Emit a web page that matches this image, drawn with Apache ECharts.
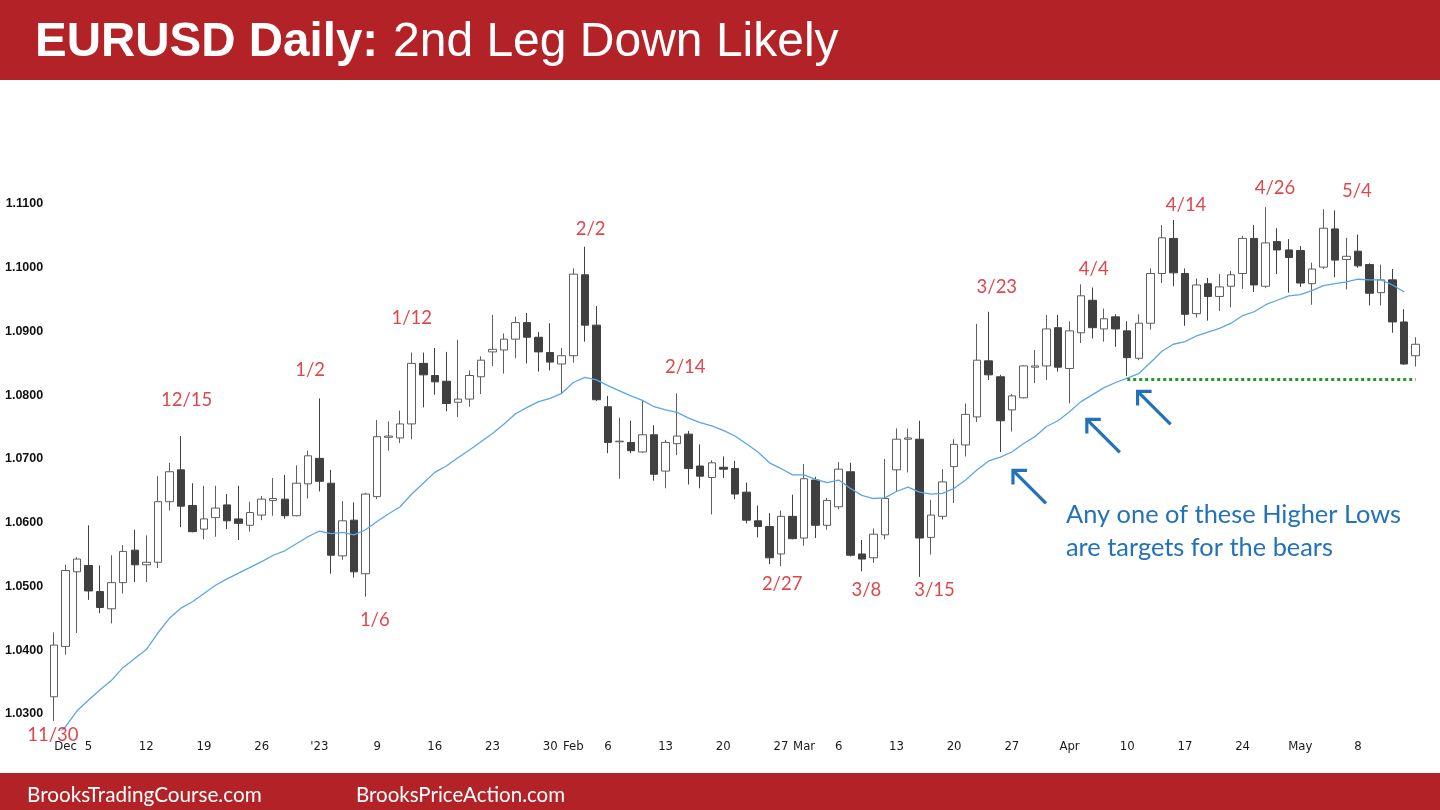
<!DOCTYPE html>
<html><head><meta charset="utf-8">
<script src="https://cdn.jsdelivr.net/npm/echarts@6/dist/echarts.min.js"></script>
<style>html,body{margin:0;padding:0;background:#fff;}#chart{width:1440px;height:810px;}</style>
</head><body><div id="chart"></div>
<script>
const dates = [
 '2022-11-30','2022-12-01','2022-12-02',
 '2022-12-05','2022-12-06','2022-12-07','2022-12-08','2022-12-09',
 '2022-12-12','2022-12-13','2022-12-14','2022-12-15','2022-12-16',
 '2022-12-19','2022-12-20','2022-12-21','2022-12-22','2022-12-23',
 '2022-12-26','2022-12-27','2022-12-28','2022-12-29','2022-12-30',
 '2023-01-02','2023-01-03','2023-01-04','2023-01-05','2023-01-06',
 '2023-01-09','2023-01-10','2023-01-11','2023-01-12','2023-01-13',
 '2023-01-16','2023-01-17','2023-01-18','2023-01-19','2023-01-20',
 '2023-01-23','2023-01-24','2023-01-25','2023-01-26','2023-01-27',
 '2023-01-30','2023-01-31','2023-02-01','2023-02-02','2023-02-03',
 '2023-02-06','2023-02-07','2023-02-08','2023-02-09','2023-02-10',
 '2023-02-13','2023-02-14','2023-02-15','2023-02-16','2023-02-17',
 '2023-02-20','2023-02-21','2023-02-22','2023-02-23','2023-02-24',
 '2023-02-27','2023-02-28','2023-03-01','2023-03-02','2023-03-03',
 '2023-03-06','2023-03-07','2023-03-08','2023-03-09','2023-03-10',
 '2023-03-13','2023-03-14','2023-03-15','2023-03-16','2023-03-17',
 '2023-03-20','2023-03-21','2023-03-22','2023-03-23','2023-03-24',
 '2023-03-27','2023-03-28','2023-03-29','2023-03-30','2023-03-31',
 '2023-04-03','2023-04-04','2023-04-05','2023-04-06','2023-04-07',
 '2023-04-10','2023-04-11','2023-04-12','2023-04-13','2023-04-14',
 '2023-04-17','2023-04-18','2023-04-19','2023-04-20','2023-04-21',
 '2023-04-24','2023-04-25','2023-04-26','2023-04-27','2023-04-28',
 '2023-05-01','2023-05-02','2023-05-03','2023-05-04','2023-05-05',
 '2023-05-08','2023-05-09','2023-05-10','2023-05-11','2023-05-12',
 '2023-05-15'
];
const opens = [
 1.0327,1.0406,1.0523,
 1.0533,1.0492,1.0465,1.0506,1.0557,
 1.0534,1.0538,1.0633,1.0683,1.0627,
 1.0590,1.0608,1.0628,1.0606,1.0596,
 1.0612,1.0635,1.0637,1.0611,1.0661,
 1.0701,1.0662,1.0548,1.0604,1.0520,
 1.0641,1.0734,1.0733,1.0755,1.0850,
 1.0831,1.0822,1.0789,1.0794,1.0829,
 1.0868,1.0871,1.0888,1.0914,1.0891,
 1.0867,1.0849,1.0862,1.0989,1.0910,
 1.0782,1.0727,1.0726,1.0711,1.0738,
 1.0681,1.0724,1.0739,1.0689,1.0671,
 1.0687,1.0685,1.0648,1.0603,1.0594,
 1.0551,1.0610,1.0576,1.0667,1.0596,
 1.0625,1.0680,1.0551,1.0545,1.0581,
 1.0683,1.0731,1.0731,1.0577,1.0610,
 1.0688,1.0722,1.0766,1.0854,1.0829,
 1.0777,1.0796,1.0844,1.0846,1.0906,
 1.0842,1.0898,1.0949,1.0904,1.0923,
 1.0901,1.0858,1.0913,1.0991,1.1046,
 1.0991,1.0928,1.0975,1.0955,1.0971,
 1.0991,1.1046,1.0971,1.1041,1.1028,
 1.1027,1.0975,1.1001,1.1061,1.1013,
 1.1026,1.1005,1.0961,1.0981,1.0915,
 1.0862
];
const highs = [
 1.0428,1.0534,1.0546,
 1.0596,1.0533,1.0549,1.0565,1.0589,
 1.0580,1.0673,1.0694,1.0736,1.0662,
 1.0658,1.0658,1.0645,1.0658,1.0633,
 1.0642,1.0670,1.0675,1.0690,1.0713,
 1.0795,1.0683,1.0634,1.0632,1.0647,
 1.0761,1.0759,1.0776,1.0867,1.0867,
 1.0874,1.0868,1.0887,1.0839,1.0861,
 1.0926,1.0897,1.0923,1.0929,1.0899,
 1.0913,1.0874,1.0999,1.1033,1.0940,
 1.0799,1.0765,1.0760,1.0791,1.0753,
 1.0730,1.0803,1.0744,1.0723,1.0698,
 1.0704,1.0697,1.0663,1.0627,1.0615,
 1.0619,1.0644,1.0692,1.0672,1.0639,
 1.0695,1.0694,1.0573,1.0591,1.0700,
 1.0748,1.0748,1.0760,1.0636,1.0684,
 1.0731,1.0787,1.0912,1.0931,1.0832,
 1.0802,1.0847,1.0871,1.0926,1.0926,
 1.0916,1.0974,1.0969,1.0936,1.0927,
 1.0916,1.0927,1.0999,1.1067,1.1075,
 1.0999,1.0983,1.0984,1.0990,1.0995,
 1.1050,1.1067,1.1095,1.1062,1.1045,
 1.1034,1.1008,1.1092,1.1090,1.1047,
 1.1052,1.1007,1.1005,1.0998,1.0935,
 1.0891
];
const lows = [
 1.0289,1.0393,1.0427,
 1.0479,1.0458,1.0442,1.0489,1.0507,
 1.0507,1.0529,1.0619,1.0593,1.0585,
 1.0574,1.0578,1.0590,1.0573,1.0586,
 1.0604,1.0611,1.0606,1.0610,1.0638,
 1.0649,1.0520,1.0542,1.0514,1.0484,
 1.0637,1.0713,1.0725,1.0731,1.0781,
 1.0801,1.0775,1.0766,1.0782,1.0802,
 1.0846,1.0834,1.0858,1.0850,1.0837,
 1.0839,1.0802,1.0851,1.0884,1.0791,
 1.0709,1.0669,1.0709,1.0710,1.0666,
 1.0654,1.0706,1.0660,1.0654,1.0613,
 1.0670,1.0637,1.0599,1.0577,1.0535,
 1.0532,1.0574,1.0564,1.0576,1.0589,
 1.0621,1.0547,1.0524,1.0537,1.0574,
 1.0649,1.0679,1.0515,1.0550,1.0605,
 1.0631,1.0704,1.0758,1.0824,1.0711,
 1.0743,1.0795,1.0819,1.0824,1.0837,
 1.0787,1.0882,1.0889,1.0884,1.0876,
 1.0830,1.0855,1.0903,1.0976,1.0971,
 1.0909,1.0922,1.0917,1.0932,1.0938,
 1.0967,1.0962,1.0968,1.0990,1.0961,
 1.0970,1.0942,1.0998,1.0985,1.0966,
 1.1000,1.0941,1.0941,1.0898,1.0848,
 1.0845
];
const closes = [
 1.0408,1.0525,1.0543,
 1.0493,1.0467,1.0506,1.0555,1.0534,
 1.0538,1.0633,1.0680,1.0626,1.0586,
 1.0606,1.0623,1.0603,1.0599,1.0616,
 1.0637,1.0638,1.0611,1.0662,1.0705,
 1.0665,1.0549,1.0603,1.0523,1.0645,
 1.0735,1.0736,1.0755,1.0850,1.0832,
 1.0821,1.0787,1.0794,1.0831,1.0855,
 1.0872,1.0888,1.0914,1.0891,1.0868,
 1.0852,1.0862,1.0990,1.0910,1.0793,
 1.0726,1.0728,1.0713,1.0738,1.0676,
 1.0726,1.0736,1.0685,1.0673,1.0694,
 1.0684,1.0645,1.0604,1.0594,1.0545,
 1.0610,1.0575,1.0669,1.0596,1.0635,
 1.0684,1.0549,1.0543,1.0582,1.0638,
 1.0731,1.0733,1.0576,1.0612,1.0664,
 1.0723,1.0770,1.0855,1.0832,1.0760,
 1.0799,1.0846,1.0846,1.0904,1.0844,
 1.0901,1.0956,1.0906,1.0920,1.0904,
 1.0859,1.0913,1.0991,1.1047,1.0992,
 1.0927,1.0973,1.0955,1.0970,1.0989,
 1.1046,1.0973,1.1039,1.1028,1.1016,
 1.0976,1.0998,1.1062,1.1012,1.1018,
 1.1003,1.0960,1.0981,1.0915,1.0849,
 1.0880
];
const ema20 = [
 1.0262,1.0280,1.0305,
 1.0322,1.0338,1.0353,1.0373,1.0387,
 1.0401,1.0427,1.0450,1.0466,1.0476,
 1.0489,1.0502,1.0512,1.0521,1.0530,
 1.0539,1.0549,1.0556,1.0567,1.0578,
 1.0587,1.0583,1.0585,1.0581,1.0589,
 1.0602,1.0614,1.0625,1.0645,1.0662,
 1.0679,1.0689,1.0702,1.0714,1.0727,
 1.0740,1.0755,1.0771,1.0781,1.0790,
 1.0795,1.0803,1.0820,1.0828,1.0824,
 1.0815,1.0807,1.0799,1.0792,1.0782,
 1.0777,1.0773,1.0764,1.0757,1.0752,
 1.0745,1.0736,1.0724,1.0711,1.0694,
 1.0685,1.0675,1.0675,1.0668,1.0663,
 1.0667,1.0654,1.0643,1.0638,1.0639,
 1.0649,1.0656,1.0648,1.0645,1.0646,
 1.0654,1.0667,1.0683,1.0697,1.0703,
 1.0711,1.0724,1.0735,1.0751,1.0760,
 1.0774,1.0790,1.0801,1.0812,1.0820,
 1.0827,1.0834,1.0851,1.0869,1.0880,
 1.0884,1.0893,1.0899,1.0905,1.0913,
 1.0925,1.0931,1.0942,1.0949,1.0956,
 1.0958,1.0964,1.0972,1.0975,1.0978,
 1.0982,1.0981,1.0981,1.0973,1.0962,
 null
];
// x-axis tick labels
const tickDates = ['2022-12-01','2022-12-05','2022-12-12','2022-12-19','2022-12-26','2023-01-02','2023-01-09','2023-01-16','2023-01-23','2023-01-30','2023-02-01','2023-02-06','2023-02-13','2023-02-20','2023-02-27','2023-03-01','2023-03-06','2023-03-13','2023-03-20','2023-03-27','2023-04-03','2023-04-10','2023-04-17','2023-04-24','2023-05-01','2023-05-08'];
const tickLabels = ['Dec','5','12','19','26',"'23",'9','16','23','30','Feb','6','13','20','27','Mar','6','13','20','27','Apr','10','17','24','May','8'];
// y-axis tick labels
const yTickValues = [1.03,1.04,1.05,1.06,1.07,1.08,1.09,1.10,1.11];
// swing labels: text, position in trading-day index, price level
const annoText  = ['11/30','12/15','1/2','1/6','1/12','2/2','2/14','2/27','3/8','3/15','3/23','4/4','4/14','4/26','5/4'];
const annoX     = [-0.1, 11.5, 22.2, 27.8, 31.0, 46.5, 54.7, 63.1, 70.4, 76.3, 81.7, 90.1, 98.1, 105.8, 112.9];
const annoY     = [1.0267,1.0793,1.0840,1.0447,1.0921,1.1061,1.0844,1.0504,1.0495,1.0495,1.0970,1.0998,1.1098,1.1125,1.1120];
// arrow tips (trading-day index, price)
const arrowX = [83.1, 89.5, 93.9];
const arrowY = [1.0682, 1.0762, 1.0806];
// support level
const supportLevel = 1.0825;
const supportFrom = '2023-04-10';
const supportTo = '2023-05-15';

const candleData = dates.map((d,i)=>[opens[i],closes[i],lows[i],highs[i]]);
const RED = '#B22226';
const ANNO = '#D9161C';
const BLUE = '#2372B9';

const chart = echarts.init(document.getElementById('chart'));
chart.setOption({
  animation:false,
  backgroundColor:'#ffffff',
  grid:{left:48.2, right:18.5, top:108.4, bottom:80.1, containLabel:false},
  xAxis:[{
    type:'category', data:dates, boundaryGap:true,
    axisLine:{show:false}, axisTick:{show:false}, splitLine:{show:false},
    axisLabel:{
      interval:(idx,val)=>tickDates.indexOf(val)>=0,
      formatter:(val)=>{const k=tickDates.indexOf(val);return k>=0?tickLabels[k]:'';},
      color:'#1a1a1a', fontSize:13, margin:10,
      fontFamily:"'Liberation Sans Narrow','DejaVu Sans Condensed','Arial Narrow',sans-serif"
    }
  },{
    type:'value', min:-0.5, max:dates.length-0.5, show:false
  }],
  yAxis:{
    type:'value', min:1.0275, max:1.125, interval:0.0025, scale:true,
    axisLine:{show:false}, axisTick:{show:false}, splitLine:{show:false},
    axisLabel:{
      margin:5, color:'#111', fontSize:12.5, fontWeight:'bold',
      fontFamily:"'Liberation Sans',Arial,sans-serif",
      formatter:(v)=>{const k=Math.round(v*10000);return yTickValues.some(t=>Math.round(t*10000)===k)?(k/10000).toFixed(4):'';}
    }
  },
  series:[{
    type:'candlestick', name:'EURUSD', data:candleData, barWidth:8,
    itemStyle:{color:'#ffffff', color0:'#404040', borderColor:'#5e5e5e', borderColor0:'#404040', borderWidth:1},
    markLine:{
      silent:true, symbol:['none','none'], label:{show:false},
      lineStyle:{color:'#1F9A2A', type:[3,3], width:3, cap:'butt'},
      emphasis:{disabled:true},
      data:[[{coord:[supportFrom,supportLevel]},{coord:[supportTo,supportLevel]}]]
    },
    z:3
  },{
    type:'line', name:'EMA20', data:ema20, symbol:'none', smooth:false,
    lineStyle:{color:'#5AA6E8', width:1.3}, z:4, silent:true
  },{
    type:'scatter', name:'labels', xAxisIndex:1, clip:false, silent:true,
    symbolSize:1, itemStyle:{color:'rgba(0,0,0,0)'},
    data:annoText.map((t,i)=>({name:t, value:[annoX[i],annoY[i]]})),
    label:{show:true, position:'inside', formatter:'{b}', color:ANNO, fontSize:18.5,
      fontFamily:"Lato,'Open Sans',sans-serif"},
    z:5
  },{
    type:'custom', name:'arrows', xAxisIndex:1, clip:false, silent:true,
    data:arrowX.map((x,i)=>[x,arrowY[i]]),
    renderItem:(params,api)=>{
      const p = api.coord([api.value(0),api.value(1)]);
      const L = 33, h = 14;
      return {type:'group', children:[
        {type:'line', shape:{x1:p[0]+1,y1:p[1]+1,x2:p[0]+L,y2:p[1]+L}, style:{stroke:BLUE,lineWidth:3.2,lineCap:'butt'}},
        {type:'polyline', shape:{points:[[p[0]+h,p[1]],[p[0],p[1]],[p[0],p[1]+h]]}, style:{stroke:BLUE,lineWidth:3.2,fill:null,lineJoin:'miter'}}
      ]};
    },
    z:6
  }],
  graphic:[
    {type:'rect', shape:{x:0,y:0,width:1440,height:80}, style:{fill:RED}, z:0},
    {type:'rect', shape:{x:0,y:773,width:1440,height:37}, style:{fill:RED}, z:0},
    {type:'text', x:35, y:43, style:{text:'EURUSD Daily:', fill:'#fff', font:"bold 47.5px 'Liberation Sans',Arial,sans-serif", align:'left', verticalAlign:'middle'}, z:10},
    {type:'text', x:393, y:43, style:{text:'2nd Leg Down Likely', fill:'#fff', font:"48px 'Liberation Sans',Arial,sans-serif", align:'left', verticalAlign:'middle'}, z:10},
    {type:'text', x:27, y:795, style:{text:'BrooksTradingCourse.com', fill:'#fff', font:"20.7px Lato,'Open Sans',sans-serif", align:'left', verticalAlign:'middle'}, z:10},
    {type:'text', x:356, y:795, style:{text:'BrooksPriceAction.com', fill:'#fff', font:"20.5px Lato,'Open Sans',sans-serif", align:'left', verticalAlign:'middle'}, z:10},
    {type:'text', x:1066, y:515, style:{text:'Any one of these Higher Lows', fill:BLUE, font:"25.4px Lato,'Open Sans',sans-serif", align:'left', verticalAlign:'middle'}, z:10},
    {type:'text', x:1066, y:548, style:{text:'are targets for the bears', fill:BLUE, font:"25.4px Lato,'Open Sans',sans-serif", align:'left', verticalAlign:'middle'}, z:10}
  ]
});
</script>
</body></html>
